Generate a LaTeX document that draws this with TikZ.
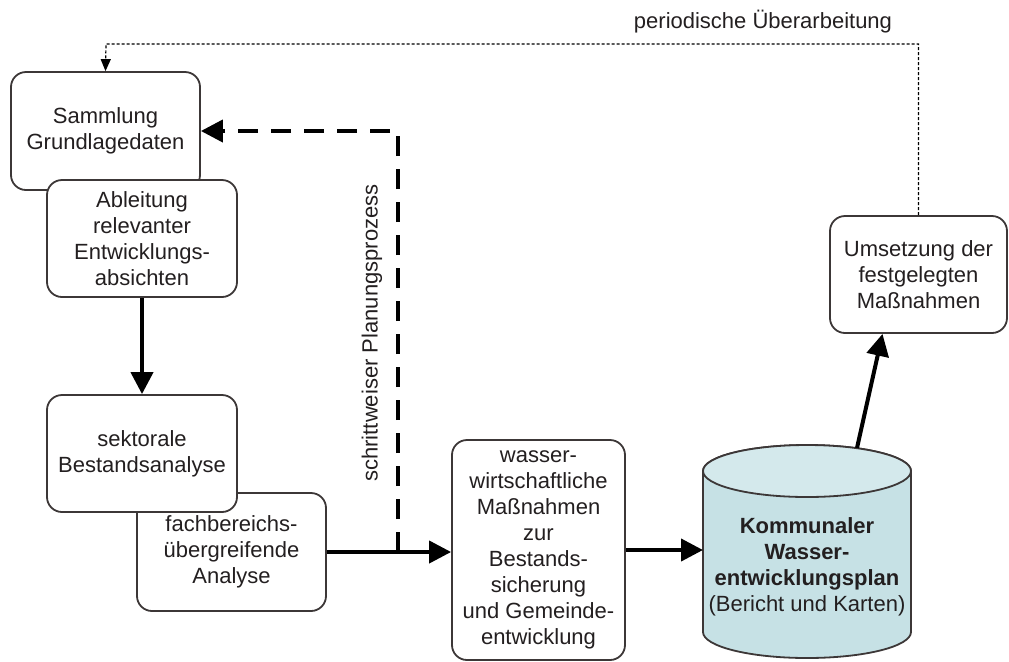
\documentclass[tikz,border=0pt]{standalone}
\usepackage{fontspec}
\setmainfont{Liberation Sans}
\usetikzlibrary{arrows.meta,calc,positioning,shapes.geometric}
\definecolor{textcol}{RGB}{35,31,32}
\definecolor{boxline}{RGB}{60,55,55}
\definecolor{cylbody}{RGB}{198,225,229}
\definecolor{cylend}{RGB}{212,233,236}
\tikzset{
  block/.style={
    draw=boxline,
    line width=0.9pt,
    rounded corners=7.5pt,
    fill=white,
    align=center,
    text=textcol,
    inner sep=1pt
  },
  line/.style={
    -{Triangle[length=11pt,width=11pt]},
    line width=2pt
  },
  stepdash/.style={
    line,
    dash pattern=on 10pt off 6.5pt
  },
  review/.style={
    -{Triangle[length=6pt,width=5pt]},
    line width=0.6pt,
    dash pattern=on 1.5pt off 1pt
  },
  storage/.style={
    draw=boxline,
    line width=0.9pt
  }
}

\begin{document}
\begin{tikzpicture}[x=0.5pt, y=-0.5pt, font=\fontsize{11}{13}\selectfont]
  \useasboundingbox (0,0) rectangle (1009,661);
  \node[block, minimum width=94.5pt, minimum height=59pt] (sammlung) at (105.5,131) {Sammlung\\Grundlagedaten};
  \node[block, minimum width=95pt, minimum height=58.5pt] (ableitung) at (142,238.5) {Ableitung\\relevanter\\Entwicklungs-\\absichten};
  \node[block, minimum width=94.5pt, minimum height=59pt] (fach) at (231.5,552) {fachbereichs-\\übergreifende\\Analyse};
  \node[block, minimum width=95pt, minimum height=58.5pt] (sektor) at (142,453.5) {sektorale\\Bestandsanalyse};
  \node[block, minimum width=86.5pt, minimum height=110pt] (wasser) at (538.5,550) {wasser-\\wirtschaftliche\\Maßnahmen\\zur\\Bestands-\\sicherung\\und Gemeinde-\\entwicklung};
  \node[block, minimum width=88.5pt, minimum height=58.5pt] (umsetzung) at (918.5,274.5) {Umsetzung der\\festgelegten\\Maßnahmen};

  % cylinder for the plan
  \coordinate (kwtop) at (807,471);
  \coordinate (kwbot) at (807,632);
  \coordinate (kwleft) at (703,551);
  \coordinate (kwout) at (857,448);
  \filldraw[storage, fill=cylbody] ([xshift=-52pt]kwtop) -- ([xshift=-52pt]kwbot)
    arc[start angle=180, end angle=360, x radius=52pt, y radius=13pt]
    -- ([xshift=52pt]kwtop)
    arc[start angle=0, end angle=180, x radius=52pt, y radius=13pt] -- cycle;
  \filldraw[storage, fill=cylend] (kwtop) ellipse[x radius=52pt, y radius=13pt];
  \node[align=center, text=textcol] (kwep) at (807,567) {\textbf{Kommunaler}\\\textbf{Wasser-}\\\textbf{entwicklungsplan}\\(Bericht und Karten)};

  \node[rotate=90, text=textcol] (planung) at (372,333) {schrittweiser Planungsprozess};
  \node[text=textcol] (ueber) at (763,22) {periodische Überarbeitung};

  \coordinate (split) at (398,552);
  \coordinate (corner) at (106,44);

  \draw[line] (ableitung) -- (sektor);
  \draw[line] (fach.east) -- (fach.east -| wasser.west);
  \draw[line] (wasser.east) -- (wasser.east -| kwleft);
  \draw[stepdash] (split) |- (sammlung.east);
  \draw[line] (kwout) -- ([xshift=-18pt]umsetzung.south);
  \draw[review] (umsetzung.north) |- (corner) -- (sammlung.north);
\end{tikzpicture}
\end{document}
